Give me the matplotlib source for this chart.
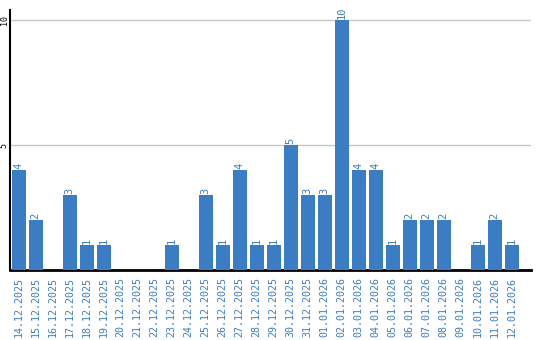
import matplotlib
matplotlib.use("Agg")
import matplotlib.pyplot as plt

dates = ["14.12.2025", "15.12.2025", "16.12.2025", "17.12.2025", "18.12.2025",
         "19.12.2025", "20.12.2025", "21.12.2025", "22.12.2025", "23.12.2025",
         "24.12.2025", "25.12.2025", "26.12.2025", "27.12.2025", "28.12.2025",
         "29.12.2025", "30.12.2025", "31.12.2025", "01.01.2026", "02.01.2026",
         "03.01.2026", "04.01.2026", "05.01.2026", "06.01.2026", "07.01.2026",
         "08.01.2026", "09.01.2026", "10.01.2026", "11.01.2026", "12.01.2026"]
values = [4, 2, 0, 3, 1, 1, 0, 0, 0, 1,
          0, 3, 1, 4, 1, 1, 5, 3, 3, 10,
          4, 4, 1, 2, 2, 2, 0, 1, 2, 1]
yticks = [5, 10]

blue = "#3b7dc4"
fig = plt.figure(figsize=(5.4, 3.4), dpi=100)
ax = fig.add_axes([10/540, 70/340, 521/540, 260/340])

x = list(range(len(values)))
bw = 14/17
ax.bar([i + 0.5 for i in x], values, width=bw, color=blue, zorder=3)
for i, v in zip(x, values):
    if v > 0:
        ax.text(i + 0.5, v + 0.05, str(v), rotation=90, ha="center", va="bottom",
                color=blue, fontsize=7.5, family="DejaVu Sans Mono")

ax.set_xlim(-0.0, 521/17)
ax.set_ylim(0, 10.4)
ax.set_yticks(yticks)
ax.set_yticklabels([str(t) for t in yticks], rotation=90, va="center",
                   fontsize=6, family="DejaVu Sans Mono")
ax.set_xticks([i + 0.5 for i in x])
ax.set_xticklabels(dates, rotation=90, color=blue, fontsize=7.2,
                   family="DejaVu Sans Mono", va="top")
ax.tick_params(axis="both", length=0)
ax.tick_params(axis="y", pad=1)
ax.tick_params(axis="x", pad=5)
ax.grid(axis="y", color="#c8c8c8", linewidth=1, zorder=0)
for s in ["top", "right"]:
    ax.spines[s].set_visible(False)
ax.spines["left"].set_linewidth(1.5)
ax.spines["bottom"].set_linewidth(2)

fig.savefig("out.png", dpi=100)
